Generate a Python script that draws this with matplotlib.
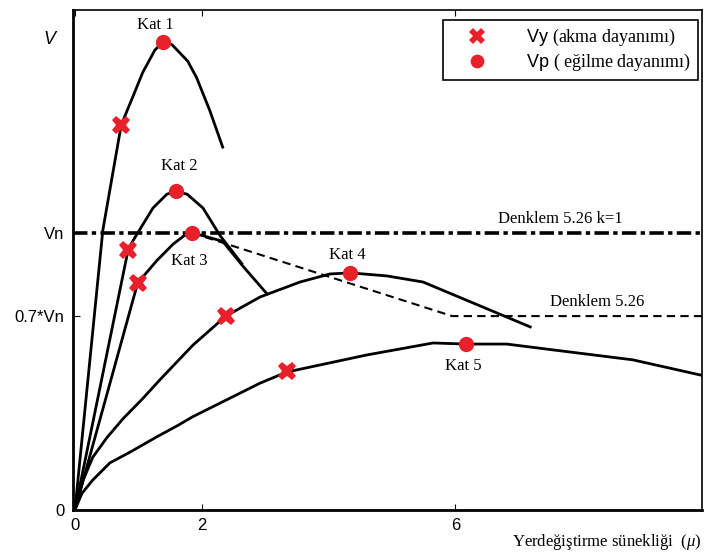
import numpy as np
import matplotlib
matplotlib.use("Agg")
import matplotlib.pyplot as plt

plt.rcParams['mathtext.fontset'] = 'custom'
plt.rcParams['mathtext.rm'] = 'Liberation Serif'
plt.rcParams['mathtext.it'] = 'Liberation Serif:italic'

# capacity curves, V / Vn against ductility mu
kat1_x = [0, 0.44, 0.73, 0.91, 1.07, 1.26, 1.39, 1.53, 1.78, 1.92, 2.13, 2.33]
kat1_y = [0, 1.01, 1.39, 1.49, 1.58, 1.66, 1.69, 1.68, 1.62, 1.56, 1.44, 1.31]
kat2_x = [0, 0.84, 0.91, 1.23, 1.45, 1.59, 1.77, 2.02, 2.29, 2.63]
kat2_y = [0, 0.94, 0.97, 1.09, 1.14, 1.15, 1.14, 1.09, 0.99, 0.89]
kat3_x = [0, 0.99, 1.29, 1.55, 1.72, 1.85, 2.02, 2.33, 2.65, 3.03]
kat3_y = [0, 0.82, 0.90, 0.96, 0.99, 1.00, 0.99, 0.97, 0.88, 0.78]
kat4_x = [0, 0.13, 0.28, 0.50, 0.76, 1.06, 1.34, 1.86, 2.38, 2.92, 3.55, 4.02,
          4.34, 4.92, 5.49, 7.18]
kat4_y = [0, 0.108, 0.19, 0.26, 0.33, 0.40, 0.47, 0.595, 0.70, 0.769, 0.823, 0.852,
          0.856, 0.845, 0.823, 0.661]
kat5_x = [0, 0.11, 0.28, 0.55, 0.87, 1.29, 1.62, 1.86, 2.92, 3.34, 4.61, 5.65,
          6.17, 6.81, 7.54, 8.80, 9.87]
kat5_y = [0, 0.06, 0.108, 0.17, 0.209, 0.264, 0.305, 0.337, 0.458, 0.498, 0.56, 0.603,
          0.599, 0.599, 0.578, 0.542, 0.487]

# yield (Vy) and peak (Vp) points
vy_x = [0.73, 0.84, 0.99, 2.38, 3.34]
vy_y = [1.39, 0.94, 0.82, 0.70, 0.50]
vp_x = [1.39, 1.59, 1.85, 4.34, 6.17]
vp_y = [1.69, 1.15, 1.00, 0.856, 0.599]

# Denklem 5.26 limit line
eq_x = [1.85, 5.95, 9.9]
eq_y = [1.0, 0.7, 0.7]

fig = plt.figure(figsize=(7.07, 5.54), dpi=100)
ax = fig.add_axes([0.1033, 0.0794, 0.8897, 0.9026])

for xs, ys in [(kat1_x, kat1_y), (kat2_x, kat2_y), (kat3_x, kat3_y),
               (kat4_x, kat4_y), (kat5_x, kat5_y)]:
    ax.plot(xs, ys, color='black', lw=2, zorder=2, solid_joinstyle='round')

ax.axhline(1.0, color='black', lw=2.6, linestyle=(0, (4, 1.2, 1.2, 1.2)), zorder=1)
ax.plot(eq_x, eq_y, color='black', lw=1.5, linestyle=(0, (4, 2.5)), zorder=1)

red = '#e8202a'
ax.plot(vy_x, vy_y, linestyle='none', marker='X', ms=13, color=red,
        markeredgewidth=0, zorder=3, label='Vy $\\mathrm{(akma\\ dayanımı)}$')
ax.plot(vp_x, vp_y, linestyle='none', marker='o', ms=11, color=red,
        markeredgewidth=0, zorder=3, label='Vp $\\mathrm{(\\ eğilme\\ dayanımı)}$')

serif = 'Liberation Serif'
ax.text(1.26, 1.75, 'Kat 1', family=serif, fontsize=12, ha='center', va='center')
ax.text(1.64, 1.24, 'Kat 2', family=serif, fontsize=12, ha='center', va='center')
ax.text(1.81, 0.90, 'Kat 3', family=serif, fontsize=12, ha='center', va='center')
ax.text(4.29, 0.92, 'Kat 4', family=serif, fontsize=12, ha='center', va='center')
ax.text(6.12, 0.52, 'Kat 5', family=serif, fontsize=12, ha='center', va='center')
ax.text(7.65, 1.05, 'Denklem 5.26 k=1', family=serif, fontsize=12, ha='center', va='center')
ax.text(8.23, 0.75, 'Denklem 5.26', family=serif, fontsize=12, ha='center', va='center')

ax.text(-0.3, 1.70, 'V', fontsize=13, style='italic', family='Liberation Sans',
        ha='right', va='center')
ax.text(9.87, -0.115, 'Yerdeğiştirme sünekliği  ($\\mathit{\\mu}$)', family=serif,
        fontsize=12, ha='right', va='center')

ax.set_xlim(-0.03, 9.89)
ax.set_ylim(0, 1.805)
ax.set_xticks([0, 2, 6])
ax.set_xticklabels(['0', '2', '6'], family='Liberation Sans', fontsize=12)
ax.set_yticks([0, 0.7, 1.0])
ax.set_yticklabels(['0', '0.7*Vn', 'Vn'], family='Liberation Sans', fontsize=12)
ax.tick_params(axis='x', direction='in', length=4, top=True, pad=6)
ax.tick_params(axis='y', direction='in', length=5, pad=6)
for s in ax.spines.values():
    s.set_linewidth(1.2)
ax.spines['left'].set_linewidth(2)
ax.spines['bottom'].set_linewidth(2)

leg = ax.legend(loc='upper right', bbox_to_anchor=(0.994, 0.98), borderaxespad=0,
                fancybox=False, edgecolor='black', framealpha=1,
                prop={'family': 'Liberation Sans', 'size': 13},
                handletextpad=1.2, borderpad=0.4, labelspacing=0.2,
                handlelength=3.0, markerscale=0.9)
leg.get_frame().set_linewidth(1.2)

fig.savefig('out.png', dpi=100)
